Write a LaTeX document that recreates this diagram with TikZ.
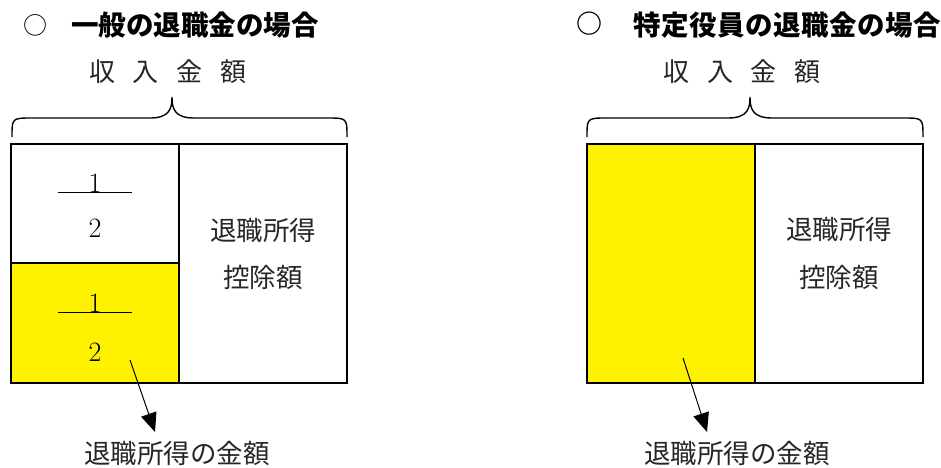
\documentclass[tikz,border=0pt]{standalone}
\usepackage{fontspec}
\newfontfamily\jp{Noto Sans CJK JP}
\usetikzlibrary{arrows.meta}
\begin{document}
\begin{tikzpicture}[x=1pt,y=-1pt,
  cell/.style={draw=black,line width=1.4pt,minimum width=168pt,inner sep=0pt,outer sep=0pt},
  body/.style={font=\jp\fontsize{26.5}{30}\selectfont,text=black!85,inner sep=0pt},
  title/.style={font=\jp\bfseries\fontsize{27.5}{30}\selectfont,inner sep=0pt,anchor=west},
  num/.style={font=\rmfamily\fontsize{28}{30}\selectfont,inner sep=0pt},
  bar/.style={line width=1pt},
  brace/.style={line width=1.4pt},
  arr/.style={line width=1pt,-{Triangle[length=19pt,width=16pt]}}]
\useasboundingbox (0,0) rectangle (941,467);
% titles
\node[title,font=\jp\fontsize{24}{28}\selectfont] (t1c) at (23,25) {○};
\node[title] (t1) at (71,25) {一般の退職金の場合};
\node[title,font=\jp\bfseries\fontsize{26}{28}\selectfont] (t2c) at (576,24) {○};
\node[title] (t2) at (633,25) {\addfontfeature{LetterSpace=2}特定役員の退職金の場合};
% income labels
\node[body,font=\jp\fontsize{26}{30}\selectfont] (inc1) at (168,72) {収\hspace{18pt}入\hspace{18pt}金\hspace{18pt}額};
\node[body,font=\jp\fontsize{26}{30}\selectfont] (inc2) at (742,72) {収\hspace{18pt}入\hspace{18pt}金\hspace{18pt}額};
% braces
\draw[brace] (12,137) .. controls (12,118) .. (32,118) -- (150,118) .. controls (170,118) and (172,108) .. (172,97)
  .. controls (172,108) and (174,118) .. (194,118) -- (327,118) .. controls (347,118) .. (347,137);
\draw[brace] (587,137) .. controls (587,118) .. (607,118) -- (728,118) .. controls (748,118) and (750,108) .. (750,97)
  .. controls (750,108) and (752,118) .. (772,118) -- (903,118) .. controls (923,118) .. (923,137);
% left boxes
\node[cell,minimum height=119pt,anchor=north west] (l1) at (11,144) {};
\node[cell,minimum height=120pt,anchor=north west,fill=yellow] (l2) at (11,263) {};
\node[cell,minimum height=239pt,anchor=north west] (l3) at (179,144) {};
\node[num] (n1a) at (95,183) {1};
\draw[bar] (58,192) -- (132,192);
\node[num] (n1b) at (95,228) {2};
\node[num] (n2a) at (95,303) {1};
\draw[bar] (58,312) -- (132,312);
\node[num] (n2b) at (95,352) {2};
\node[body] (d1a) at (263,230) {退職所得};
\node[body] (d1b) at (263,277) {控除額};
% right boxes
\node[cell,minimum height=239pt,anchor=north west,fill=yellow] (r1) at (587,144) {};
\node[cell,minimum height=239pt,anchor=north west] (r2) at (755,144) {};
\node[body] (d2a) at (839,229) {退職所得};
\node[body] (d2b) at (839,277) {控除額};
% arrows and result labels
\coordinate (s1) at (130,360);
\coordinate (e1) at (155,432);
\node[body] (res1) at (177,453) {退職所得の金額};
\draw[arr] (s1) -- (e1);
\coordinate (s2) at (683,358);
\coordinate (e2) at (707,432);
\node[body] (res2) at (737,453) {退職所得の金額};
\draw[arr] (s2) -- (e2);
\end{tikzpicture}
\end{document}
